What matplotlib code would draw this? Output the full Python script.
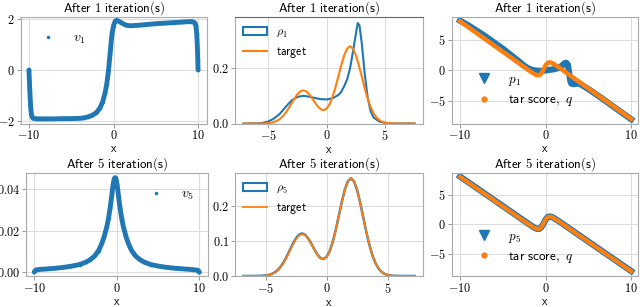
import matplotlib
matplotlib.use("Agg")
import matplotlib.pyplot as plt
from matplotlib.patches import Patch

plt.rcParams["mathtext.fontset"] = "cm"

# ---- data ----
# panel 1: v_1 after 1 iteration
v1_x = [-10, -9.95, -9.9, -9.8, -9.7, -9.6, -9.5, -9, -8, -7, -6, -5, -4, -3.5, -3, -2.5, -2,
        -1.6, -1.3, -1, -0.8, -0.6, -0.4, -0.2, 0, 0.2, 0.4, 0.6, 1, 1.5, 2, 3, 4, 5, 6, 7,
        8, 9, 9.3, 9.5, 9.65, 9.75, 9.85, 9.92, 9.97, 10]
v1_y = [0.0, -0.4, -0.8, -1.45, -1.74, -1.84, -1.88, -1.9, -1.9, -1.9, -1.89, -1.89, -1.88,
        -1.86, -1.82, -1.76, -1.65, -1.48, -1.25, -0.9, -0.55, -0.05, 0.65, 1.35, 1.72, 1.9,
        1.93, 1.9, 1.82, 1.74, 1.72, 1.74, 1.77, 1.8, 1.82, 1.84, 1.86, 1.88, 1.88, 1.86,
        1.82, 1.7, 1.4, 0.9, 0.4, 0.0]

# panel 4: v_5 after 5 iterations
v5_x = [-10, -9.95, -9.8, -9.5, -8.5, -7.5, -6.5, -5.5, -4.5, -3.7, -3.2, -2.7, -2.2, -1.8,
        -1.5, -1.2, -1.0, -0.8, -0.6, -0.45, -0.3, -0.2, -0.1, 0.05, 0.2, 0.4, 0.6, 0.8,
        1.1, 1.4, 1.8, 2.3, 2.8, 3.3, 4.1, 5.1, 6.1, 7.1, 8.1, 9.1, 9.8, 9.95, 10]
v5_y = [0.0002, 0.0006, 0.0012, 0.0014, 0.0017, 0.002, 0.0024, 0.003, 0.0038, 0.005, 0.0062,
        0.0078, 0.0105, 0.014, 0.0175, 0.022, 0.026, 0.031, 0.037, 0.042, 0.045, 0.0455,
        0.045, 0.042, 0.037, 0.031, 0.026, 0.022, 0.0175, 0.014, 0.0105, 0.0078, 0.0062,
        0.005, 0.0038, 0.003, 0.0024, 0.002, 0.0017, 0.0014, 0.0011, 0.0005, 0.0001]

# panels 2 and 5: densities
dens_x = [-7.1, -6, -5.75, -5.5, -5.25, -5, -4.75, -4.5, -4.25, -4, -3.75, -3.5, -3.25, -3,
          -2.75, -2.5, -2.25, -2, -1.75, -1.5, -1.25, -1, -0.75, -0.5, -0.25, 0, 0.25, 0.5,
          0.75, 1, 1.25, 1.5, 1.75, 2, 2.25, 2.5, 2.75, 3, 3.25, 3.5, 3.75, 4, 4.25, 4.5,
          4.75, 5, 5.25, 5.5, 5.75, 6, 7.5]
target = [0.0, 0.0, 0.0001, 0.0003, 0.0006, 0.0013, 0.0027, 0.0053, 0.0095, 0.0162, 0.0259,
          0.0389, 0.0548, 0.0726, 0.0903, 0.1056, 0.116, 0.1198, 0.1163, 0.1062, 0.0917,
          0.0757, 0.0612, 0.0512, 0.0481, 0.054, 0.0699, 0.096, 0.1305, 0.1707, 0.2114,
          0.2468, 0.2708, 0.2793, 0.2707, 0.2465, 0.2108, 0.1694, 0.1278, 0.0907, 0.0604,
          0.0378, 0.0222, 0.0123, 0.0064, 0.0031, 0.0014, 0.0006, 0.0003, 0.0001, 0.0]
rho1_x = [-7.1, -6, -5.5, -5, -4.5, -4, -3.5, -3, -2.5, -2, -1.5, -1, -0.5, 0, 0.5, 1, 1.25,
          1.5, 1.75, 2, 2.25, 2.5, 2.65, 2.8, 3, 3.25, 3.5, 3.75, 4, 4.5, 5, 5.5, 6, 7.5]
rho1 = [0.0, 0.0005, 0.002, 0.007, 0.018, 0.035, 0.06, 0.083, 0.096, 0.1, 0.097, 0.092,
        0.088, 0.087, 0.091, 0.103, 0.115, 0.135, 0.16, 0.2, 0.26, 0.325, 0.363, 0.355,
        0.29, 0.18, 0.095, 0.045, 0.022, 0.007, 0.002, 0.0005, 0.0, 0.0]
rho5 = [0.0, 0.0, 0.0001, 0.0003, 0.0007, 0.0015, 0.003, 0.0057, 0.0101, 0.017, 0.027,
        0.0403, 0.0565, 0.0745, 0.0925, 0.1078, 0.118, 0.1215, 0.1175, 0.107, 0.0922,
        0.0758, 0.0612, 0.0512, 0.0483, 0.0545, 0.0706, 0.0968, 0.1312, 0.1712, 0.2117,
        0.2469, 0.2707, 0.279, 0.2702, 0.2458, 0.2099, 0.1685, 0.1268, 0.0898, 0.0597,
        0.0373, 0.0219, 0.0121, 0.0063, 0.003, 0.0013, 0.0006, 0.0003, 0.0001, 0.0]
dens_x5 = [-6.8] + dens_x[1:-1] + [7.2]

# panels 3 and 6: scores
q_x = [-10, -8, -6, -4, -3, -2, -1.5, -1.25, -1, -0.75, -0.5, -0.25, 0, 0.25, 0.5, 0.75,
       1, 1.5, 2, 4, 6, 8, 10]
q = [8.0, 6.0, 4.0, 2.0, 1.0, 0.0, -0.48, -0.69, -0.84, -0.83, -0.54, 0.1, 0.8, 1.21,
     1.28, 1.17, 0.97, 0.5, 0.0, -2.0, -4.0, -6.0, -8.0]
p5 = [8.05, 6.05, 4.05, 2.05, 1.04, 0.05, -0.44, -0.66, -0.82, -0.82, -0.55, 0.05, 0.76,
      1.2, 1.29, 1.19, 0.99, 0.53, 0.03, -1.97, -3.97, -5.97, -7.97]
p1_x = [-10, -9, -8, -7, -6, -5, -4, -3, -2.5, -2, -1.5, -1, -0.5, 0, 0.5, 1, 1.5, 1.9, 2.2,
        2.4, 2.6, 2.75, 2.9, 3.0, 3.3, 3.6, 4, 5, 6, 7, 8, 9, 10]
p1 = [8.1, 7.3, 6.4, 5.5, 4.5, 3.5, 2.4, 1.3, 0.7, 0.25, 0.0, -0.1, -0.12, -0.05, 0.05, 0.15,
      0.35, 0.7, 1.1, 1.2, 0.9, -0.5, -1.8, -2.2, -2.3, -2.2, -2.25, -3.1, -4.05, -5.05,
      -6.05, -7.05, -8.05]

C0 = "#1f77b4"
C1 = "#ff7f0e"
W, H = 640, 307


def sf(s):
    return r"$\mathsf{" + s.replace(" ", r"\ ") + "}$"


def box(x0, x1, ytop, ybot):
    return [x0 / W, 1 - ybot / H, (x1 - x0) / W, (ybot - ytop) / H]


def style(ax, title, xlim, ylim, xt, yt, ylab):
    ax.set_xlim(xlim)
    ax.set_ylim(ylim)
    ax.set_xticks(xt, [f"${t:g}$" for t in xt])
    ax.set_yticks(yt, ylab)
    ax.grid(True, color="#dddddd", lw=0.8)
    ax.set_axisbelow(True)
    for s in ax.spines.values():
        s.set_color("#aaaaaa")
        s.set_linewidth(0.8)
    ax.tick_params(labelsize=8.8, length=3, width=0.6, color="#888888", pad=1.2)
    ax.set_title(sf(title), fontsize=9.3, pad=1.5)
    ax.set_xlabel(sf("x"), fontsize=8.5, labelpad=0)


fig = plt.figure(figsize=(6.4, 3.07), dpi=100)

# row 1
ax = fig.add_axes(box(20.5, 206.5, 17, 123.5))
ax.plot(v1_x, v1_y, color=C0, lw=3.5, solid_capstyle="round")
ax.plot(v1_x, v1_y, ".", color=C0, ms=3, label=r"$v_1$")
style(ax, "After 1 iteration(s)", (-11, 11), (-2.08, 2.06), [-10, 0, 10], [-2, 0, 2],
      [r"$-2$", r"$0$", r"$2$"])
ax.legend(loc="upper left", frameon=False, fontsize=10, handletextpad=0.8,
          borderaxespad=0.6)

ax = fig.add_axes(box(235, 423, 17, 123.5))
ax.plot(rho1_x, rho1, color=C0, lw=1.5)
ax.plot(dens_x, target, color=C1, lw=1.5)
style(ax, "After 1 iteration(s)", (-7.83, 8.23), (0, 0.385), [-5, 0, 5], [0.0, 0.2],
      [r"$0.0$", r"$0.2$"])
ax.spines["top"].set_color("#666666")
ax.legend([Patch(facecolor="none", edgecolor=C0, lw=1.5), ax.lines[1]],
          [r"$\rho_1$", sf("target")], loc="upper left", frameon=False, fontsize=8.5,
          handlelength=2.0, borderaxespad=0.3)

ax = fig.add_axes(box(451.5, 638, 17, 123.5))
ax.plot(p1_x, p1, color=C0, lw=4.5)
ax.plot(q_x, q, color=C1, lw=3.2)
ax.plot(p1_x, p1, "v", color=C0, ms=2, label=r"$p_1$", zorder=1)
ax.plot(q_x, q, ".", color=C1, ms=2, label=sf("tar score,") + r"$\ q$", zorder=1)
style(ax, "After 1 iteration(s)", (-11, 10.8), (-8.75, 8.7), [-10, 0, 10], [-5, 0, 5],
      [r"$-5$", r"$0$", r"$5$"])
ax.legend(loc="center left", bbox_to_anchor=(0.04, 0.31), frameon=False, fontsize=9.5,
          markerscale=3.5, handletextpad=0.8, labelspacing=0.4)

# row 2
ax = fig.add_axes(box(26, 207.5, 173, 276))
ax.plot(v5_x, v5_y, color=C0, lw=3.5, solid_capstyle="round")
ax.plot(v5_x, v5_y, ".", color=C0, ms=3, label=r"$v_5$")
style(ax, "After 5 iteration(s)", (-11, 11), (-0.0017, 0.0477), [-10, 0, 10],
      [0.0, 0.02, 0.04], [r"$0.00$", r"$0.02$", r"$0.04$"])
ax.legend(loc="upper right", frameon=False, fontsize=10, handletextpad=0.8,
          borderaxespad=0.6)

ax = fig.add_axes(box(235, 423, 173, 276))
ax.plot(dens_x5, rho5, color=C0, lw=1.8)
ax.plot(dens_x5, target, color=C1, lw=1.3)
style(ax, "After 5 iteration(s)", (-7.5, 7.9), (0, 0.294), [-5, 0, 5], [0.0, 0.1, 0.2],
      [r"$0.0$", r"$0.1$", r"$0.2$"])
ax.legend([Patch(facecolor="none", edgecolor=C0, lw=1.5), ax.lines[1]],
          [r"$\rho_5$", sf("target")], loc="upper left", frameon=False, fontsize=8.5,
          handlelength=2.0, borderaxespad=0.3)

ax = fig.add_axes(box(451.5, 638, 173, 276))
ax.plot(q_x, p5, color=C0, lw=4.5)
ax.plot(q_x, q, color=C1, lw=3.0)
ax.plot(q_x, p5, "v", color=C0, ms=2, label=r"$p_5$", zorder=1)
ax.plot(q_x, q, ".", color=C1, ms=2, label=sf("tar score,") + r"$\ q$", zorder=1)
style(ax, "After 5 iteration(s)", (-11, 10.8), (-8.8, 8.65), [-10, 0, 10], [-5, 0, 5],
      [r"$-5$", r"$0$", r"$5$"])
ax.legend(loc="center left", bbox_to_anchor=(0.04, 0.28), frameon=False, fontsize=9.5,
          markerscale=3.5, handletextpad=0.8, labelspacing=0.4)

fig.savefig("out.png", dpi=100)
